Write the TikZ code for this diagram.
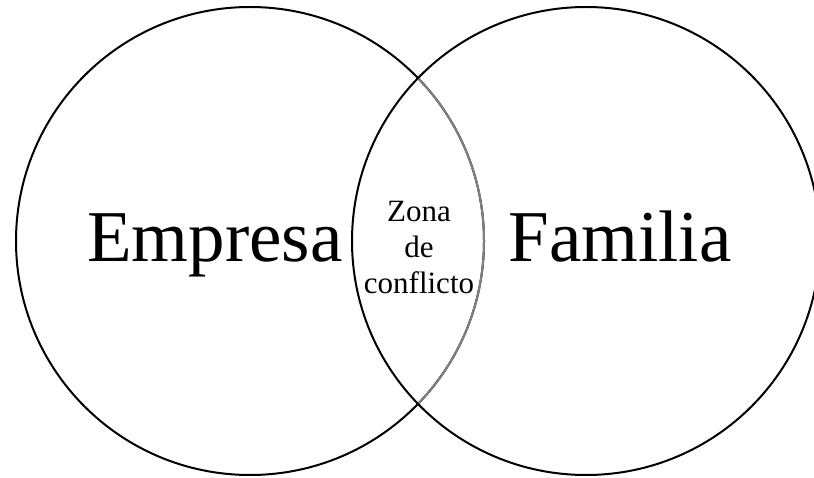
\documentclass[tikz,border=0pt]{standalone}
\usepackage{fontspec}
\setmainfont{Liberation Serif}
\usetikzlibrary{positioning}

\begin{document}
\begin{tikzpicture}[x=1pt,y=-1pt,line width=2pt,
        set/.style={circle,draw,minimum size=468pt,inner sep=0pt},
        big/.style={font=\fontsize{73}{80}\selectfont,inner sep=0pt,anchor=base},
        small/.style={font=\fontsize{31}{36}\selectfont,align=center,inner sep=0pt}]
        \useasboundingbox (0,0) rectangle (814,478);
        \node[set] (emp) at (250,241) {};
        \node[set] (fam) at (586,241) {};
        % inner arc of the left set is grey
        \begin{scope}
            \clip (fam.center) circle (233);
            \draw[gray] (emp.center) circle (234);
        \end{scope}
        \node[big] (e) at (215,262) {Empresa};
        \node[big] (f) at (620,262) {Familia};
        \node[small] (z) at (419,248) {Zona\\de\\conflicto};
    \end{tikzpicture}
\end{document}
